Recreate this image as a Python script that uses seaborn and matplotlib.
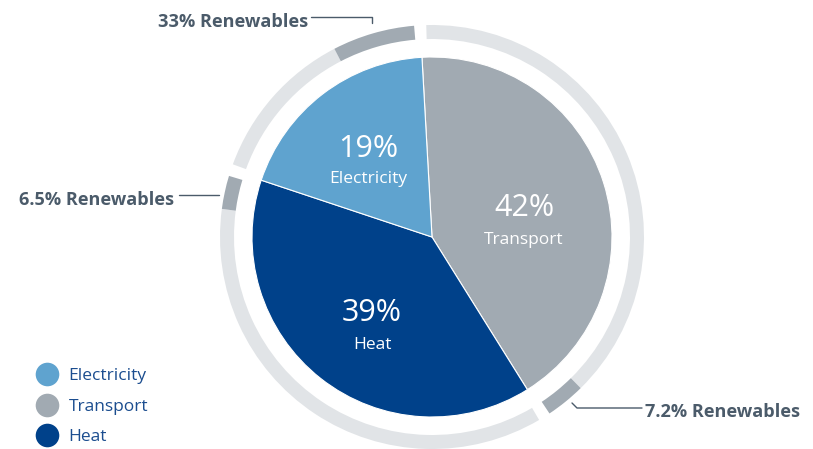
import matplotlib
matplotlib.use("Agg")
import matplotlib.pyplot as plt
import seaborn as sns
from matplotlib.lines import Line2D

# ---- data ----
sectors = ["Transport", "Heat", "Electricity"]
shares = [42, 39, 19]
renewables = [7.2, 6.5, 33]
share_labels = ["42%", "39%", "19%"]
renew_labels = ["7.2% Renewables", "6.5% Renewables", "33% Renewables"]
legend_order = ["Electricity", "Transport", "Heat"]

sns.set_theme(style="white")
plt.rcParams['font.family'] = ['Open Sans', 'DejaVu Sans']

palette = dict(zip(["Electricity", "Transport", "Heat"],
                   sns.color_palette(["#5fa3cf", "#a1aab2", "#00418a"])))
ring_light = "#e1e4e7"
ring_dark = "#a1aab2"
text_gray = "#4b5b6a"
legend_blue = "#1b4d8f"

W, H = 813, 449
fig = plt.figure(figsize=(W / 100, H / 100), dpi=100)
ax = fig.add_axes([0, 0, 1, 1])
cx, cy = 432, H - 237
R = 180
start = 93.2

ax.pie(shares, colors=[palette[s] for s in sectors], startangle=start,
       counterclock=False, radius=R, center=(cx, cy),
       wedgeprops=dict(edgecolor="white", linewidth=0.8))

# outer ring with renewables share
gap = 3.3
vals, cols = [], []
for s, r in zip(shares, renewables):
    A = s * 3.6
    dark = A * r / 100
    light = A - dark - gap
    vals += [gap / 2, light, dark, gap / 2]
    cols += ["none", ring_light, ring_dark, "none"]
ax.pie(vals, colors=cols, startangle=start, counterclock=False, radius=212,
       center=(cx, cy), wedgeprops=dict(width=14, linewidth=0))

# inside labels
inner_pos = {"Electricity": (368, 149, 179), "Transport": (524, 208, 240),
             "Heat": (372, 313, 345)}
for s, lab in zip(sectors, share_labels):
    x, y1, y2 = inner_pos[s]
    ax.text(x, H - y1, lab, color="white", fontsize=22, ha="center", va="center")
    ax.text(x, H - y2, s, color="white", fontsize=12.5, ha="center", va="center")

# renewables annotations
ax.text(308, H - 27, renew_labels[2], color=text_gray, fontsize=13.1,
        fontweight="bold", ha="right", va="baseline")
ax.plot([311, 372, 372], [H - 17, H - 17, H - 23], color=text_gray, lw=1)

ax.text(174, H - 205, renew_labels[1], color=text_gray, fontsize=13.1,
        fontweight="bold", ha="right", va="baseline")
ax.plot([179, 219], [H - 195, H - 195], color=text_gray, lw=1)

ax.text(645, H - 417, renew_labels[0], color=text_gray, fontsize=13.1,
        fontweight="bold", ha="left", va="baseline")
ax.plot([572, 577, 642], [H - 403, H - 408, H - 408], color=text_gray, lw=1)

# legend
handles = [Line2D([], [], marker="o", linestyle="", markersize=17,
                  markerfacecolor=palette[s], markeredgewidth=0) for s in legend_order]
ax.legend(handles, legend_order, loc="center left",
          bbox_to_anchor=(38 / W, (H - 406.5) / H), frameon=False,
          fontsize=12.5, labelcolor=legend_blue, handlelength=1.0,
          handletextpad=0.75, labelspacing=0.85, borderpad=0, borderaxespad=0)

ax.set_xlim(0, W)
ax.set_ylim(0, H)
ax.set_aspect("equal")
ax.axis("off")
fig.savefig("out.png", dpi=100)
